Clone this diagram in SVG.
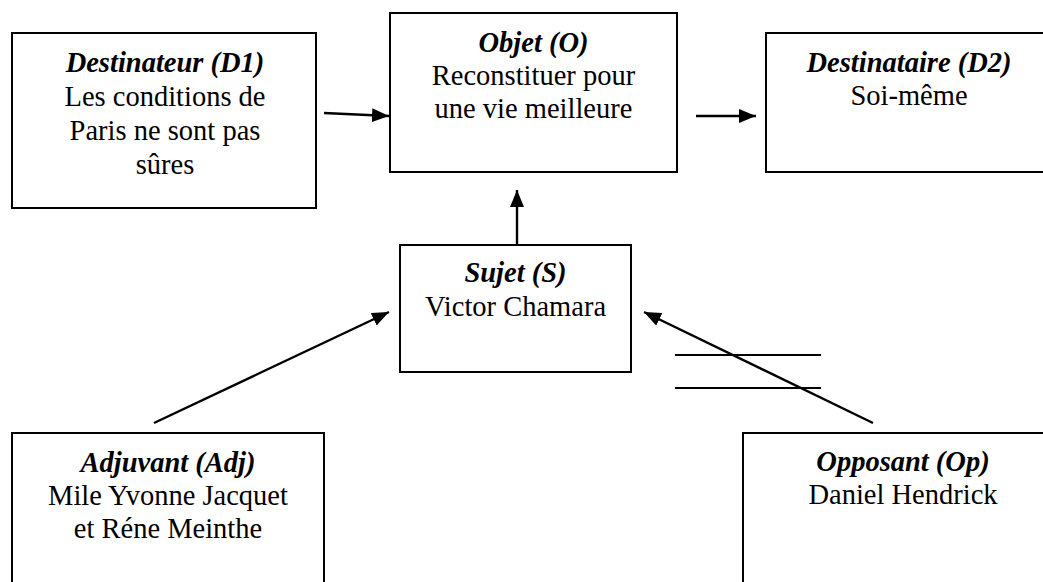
<svg xmlns="http://www.w3.org/2000/svg" width="1043" height="582" viewBox="0 0 1043 582">
<style>
.box{fill:#fff;stroke:#000;stroke-width:2}
.t{font-family:"Liberation Serif","Times New Roman",serif;font-size:28.5px;text-anchor:middle;fill:#000}
.h{font-weight:bold;font-style:italic}
.c{stroke:#000;stroke-width:2.4;fill:none}
.hash{stroke:#000;stroke-width:1.8}
</style>
<defs>
<marker id="ah" markerUnits="userSpaceOnUse" markerWidth="20" markerHeight="16" refX="17" refY="7" orient="auto">
<path d="M0,0 L17,7 L0,14 z" fill="#000"/>
</marker>
</defs>
<rect width="1043" height="582" fill="#fff"/>
<g id="destinateur">
<rect class="box" x="12" y="33" width="304" height="175"/>
<text class="t h" x="165" y="72">Destinateur (D1)</text>
<text class="t" x="165" y="106">Les conditions de</text>
<text class="t" x="165" y="140">Paris ne sont pas</text>
<text class="t" x="165" y="174">sûres</text>
</g>
<g id="objet">
<rect class="box" x="390" y="13" width="287" height="159"/>
<text class="t h" x="533.5" y="52">Objet (O)</text>
<text class="t" x="533.5" y="85">Reconstituer pour</text>
<text class="t" x="533.5" y="118">une vie meilleure</text>
</g>
<g id="destinataire">
<rect class="box" x="766" y="33" width="290" height="139"/>
<text class="t h" x="909" y="72">Destinataire (D2)</text>
<text class="t" x="909" y="105">Soi-même</text>
</g>
<g id="sujet">
<rect class="box" x="400" y="245" width="231" height="127"/>
<text class="t h" x="515.5" y="282">Sujet (S)</text>
<text class="t" x="515.5" y="316">Victor Chamara</text>
</g>
<g id="adjuvant">
<rect class="box" x="12" y="433" width="312" height="170"/>
<text class="t h" x="168" y="472">Adjuvant (Adj)</text>
<text class="t" x="168" y="505">Mile Yvonne Jacquet</text>
<text class="t" x="168" y="538">et Réne Meinthe</text>
</g>
<g id="opposant">
<rect class="box" x="743" y="433" width="320" height="170"/>
<text class="t h" x="903" y="471">Opposant (Op)</text>
<text class="t" x="903" y="504">Daniel Hendrick</text>
</g>
<g id="connectors">
<line class="c" x1="324" y1="113" x2="389" y2="116" marker-end="url(#ah)"/>
<line class="c" x1="696" y1="116" x2="756" y2="116" marker-end="url(#ah)"/>
<line class="c" x1="517" y1="245" x2="517" y2="190" marker-end="url(#ah)"/>
<line class="c" x1="154" y1="423" x2="389" y2="312" marker-end="url(#ah)"/>
<line class="c" x1="873" y1="423" x2="644" y2="312" marker-end="url(#ah)"/>
<line class="hash" x1="675" y1="355" x2="821" y2="355"/>
<line class="hash" x1="675" y1="388" x2="821" y2="388"/>
</g>
</svg>
